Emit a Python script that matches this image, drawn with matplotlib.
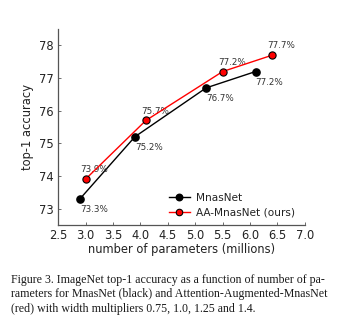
import matplotlib
matplotlib.use("Agg")
import matplotlib.pyplot as plt

# ── Data ──────────────────────────────────────────────────────────────────────
mnas_params = [2.9, 3.9, 5.2, 6.1]
mnas_acc    = [73.3, 75.2, 76.7, 77.2]
aa_params   = [3.0, 4.1, 5.5, 6.4]
aa_acc      = [73.9, 75.7, 77.2, 77.7]
xticks      = [2.5, 3.0, 3.5, 4.0, 4.5, 5.0, 5.5, 6.0, 6.5, 7.0]
yticks      = [73, 74, 75, 76, 77, 78]
caption = [
    "Figure 3. ImageNet top-1 accuracy as a function of number of pa-",
    "rameters for MnasNet (black) and Attention-Augmented-MnasNet",
    "(red) with width multipliers 0.75, 1.0, 1.25 and 1.4.",
]

fig = plt.figure(figsize=(3.48, 3.24), dpi=100)
ax = fig.add_axes([0.167, 0.306, 0.709, 0.604])

ax.plot(mnas_params, mnas_acc, "-o", color="black", lw=1.0, ms=5.2,
        mfc="black", mec="black", label="MnasNet", zorder=3)
ax.plot(aa_params, aa_acc, "-o", color="red", lw=1.0, ms=5.2,
        mfc="red", mec="black", mew=0.8, label="AA-MnasNet (ours)", zorder=4)

for xv, yv in zip(mnas_params, mnas_acc):
    ax.annotate(f"{yv:.1f}%", (xv, yv), textcoords="offset points",
                xytext=(0, -4.5), ha="left", va="top", fontsize=6.3, color="#333333")
for xv, yv in zip(aa_params, aa_acc):
    ax.annotate(f"{yv:.1f}%", (xv, yv), textcoords="offset points",
                xytext=(-3.5, 3.5), ha="left", va="bottom", fontsize=6.3, color="#333333")

ax.set_xlim(2.5, 7.0)
ax.set_ylim(72.5, 78.5)
ax.set_xticks(xticks)
ax.set_xticklabels([f"{v:.1f}" for v in xticks])
ax.set_yticks(yticks)
ax.tick_params(direction="in", length=2, width=0.6, labelsize=8.3,
               colors="#555555", labelcolor="#222222", pad=3)
for s in ("top", "right"):
    ax.spines[s].set_visible(False)
for s in ("left", "bottom"):
    ax.spines[s].set_color("#555555")
    ax.spines[s].set_linewidth(0.9)
ax.set_xlabel("number of parameters (millions)", fontsize=8.3, color="#222222", labelpad=1)
ax.set_ylabel("top-1 accuracy", fontsize=8.3, color="#222222", labelpad=4)

ax.legend(loc="lower right", bbox_to_anchor=(1.0, -0.01), frameon=False,
          fontsize=7.6, handlelength=2.0, handletextpad=0.6,
          labelspacing=0.45, labelcolor="#222222", markerscale=0.9)

for i, line in enumerate(caption):
    fig.text(11 / 348, 1 - (280 + 14.5 * i) / 324, line, fontsize=8.6,
             family="Liberation Serif", color="#1a1a1a", va="center", ha="left")

fig.savefig("out.png", dpi=100)
